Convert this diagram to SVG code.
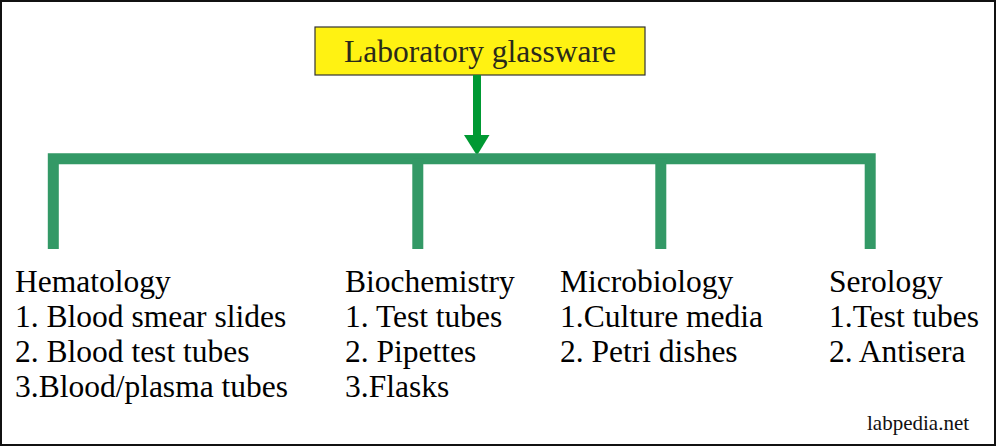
<svg xmlns="http://www.w3.org/2000/svg" width="999" height="448" viewBox="0 0 999 448">
<style>
.t{font-family:"Liberation Serif","Times New Roman",serif;font-size:31.5px;fill:#000}
.bar{fill:none;stroke:#339966;stroke-width:11;stroke-linejoin:miter;stroke-linecap:butt}
</style>
<rect x="0" y="0" width="999" height="448" fill="#fff"/>
<rect x="1" y="1" width="994" height="444" fill="none" stroke="#111" stroke-width="2"/>
<g id="root">
<rect x="315" y="27" width="330" height="48" fill="#fff212" stroke="#333" stroke-width="1.2"/>
<text class="t" x="480" y="62" text-anchor="middle" style="fill:#2a2a1a">Laboratory glassware</text>
</g>
<g id="connectors">
<path d="M477 75 V137" stroke="#009933" stroke-width="8" fill="none"/>
<polygon points="464,135 489.5,135 477,155.5" fill="#009933"/>
<path class="bar" d="M53.3 249 V158.8 H870.2 V249"/>
<path class="bar" d="M417.8 158.8 V249"/>
<path class="bar" d="M660.8 158.8 V249"/>
</g>
<g id="hematology">
<text class="t" x="15" y="291.5">Hematology</text>
<text class="t" x="15" y="326.5">1. Blood smear slides</text>
<text class="t" x="15" y="361.5">2. Blood test tubes</text>
<text class="t" x="15" y="396.5">3.Blood/plasma tubes</text>
</g>
<g id="biochemistry">
<text class="t" x="345" y="291.5">Biochemistry</text>
<text class="t" x="345" y="326.5">1. Test tubes</text>
<text class="t" x="345" y="361.5">2. Pipettes</text>
<text class="t" x="345" y="396.5">3.Flasks</text>
</g>
<g id="microbiology">
<text class="t" x="560" y="291.5">Microbiology</text>
<text class="t" x="560" y="326.5">1.Culture media</text>
<text class="t" x="560" y="361.5">2. Petri dishes</text>
</g>
<g id="serology">
<text class="t" x="829" y="291.5">Serology</text>
<text class="t" x="829" y="326.5">1.Test tubes</text>
<text class="t" x="829" y="361.5">2. Antisera</text>
</g>
<text x="867" y="430" font-family="Liberation Serif, serif" font-size="21" fill="#111">labpedia.net</text>
</svg>
